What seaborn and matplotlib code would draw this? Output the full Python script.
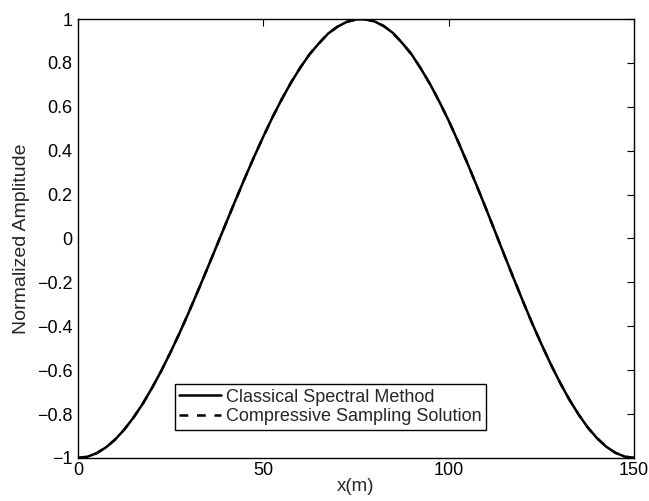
import numpy as np
import pandas as pd
import matplotlib
matplotlib.use("Agg")
import matplotlib.pyplot as plt
import seaborn as sns

x_m = [0, 2.5, 5, 7.5, 10, 12.5, 15, 17.5, 20, 22.5, 25, 27.5, 30, 32.5, 35, 37.5,
       40, 42.5, 45, 47.5, 50, 52.5, 55, 57.5, 60, 62.5, 65, 67.5, 70, 72.5, 75,
       77.5, 80, 82.5, 85, 87.5, 90, 92.5, 95, 97.5, 100, 102.5, 105, 107.5, 110,
       112.5, 115, 117.5, 120, 122.5, 125, 127.5, 130, 132.5, 135, 137.5, 140,
       142.5, 145, 147.5, 150]
classical = [-1.000, -0.995, -0.979, -0.953, -0.917, -0.871, -0.816, -0.753, -0.681,
             -0.603, -0.518, -0.428, -0.333, -0.234, -0.133, -0.031, 0.072, 0.174,
             0.274, 0.371, 0.464, 0.553, 0.635, 0.711, 0.779, 0.840, 0.889, 0.934,
             0.965, 0.987, 0.998, 0.999, 0.989, 0.968, 0.936, 0.890, 0.839, 0.774,
             0.703, 0.623, 0.537, 0.443, 0.345, 0.243, 0.139, 0.032, -0.075, -0.181,
             -0.285, -0.386, -0.481, -0.572, -0.656, -0.733, -0.801, -0.861, -0.910,
             -0.949, -0.977, -0.994, -1.000]
compressive = list(classical)
labels = ["Classical Spectral Method", "Compressive Sampling Solution"]

df = pd.DataFrame({
    "x": x_m * 2,
    "y": classical + compressive,
    "method": [labels[0]] * len(x_m) + [labels[1]] * len(x_m),
})

sns.set_style("white")
plt.rcParams["font.family"] = ["Liberation Sans", "DejaVu Sans"]

fig = plt.figure(figsize=(6.49, 5.01), dpi=100)
ax = fig.add_axes([0.120, 0.086, 0.857, 0.876])
sns.lineplot(data=df, x="x", y="y", hue="method", style="method",
             palette=["black", "black"], dashes=[(None, None), (3.5, 3.5)],
             linewidth=1.8, ax=ax, legend=True)

ax.set_xlim(0, 150)
ax.set_ylim(-1, 1)
ax.set_xticks([0, 50, 100, 150])
ax.set_xticklabels(["0", "50", "100", "150"])
yt = np.round(np.arange(-1, 1.01, 0.2), 1)
ax.set_yticks(yt)
ax.set_yticklabels(["\u22121" if v == -1 else ("1" if v == 1 else ("0" if v == 0 else f"{v:.1f}".replace("-", "\u2212"))) for v in yt])
ax.tick_params(direction="in", length=5, width=0.8, top=True, right=True,
               labelsize=13, pad=3, colors="black")
ax.tick_params(axis="y", pad=4)
for s in ax.spines.values():
    s.set_color("black")
    s.set_linewidth(1.0)
    s.set_visible(True)
ax.set_xlabel("x(m)", fontsize=13.5, labelpad=-1)
ax.set_ylabel("Normalized Amplitude", fontsize=14, labelpad=5)

handles, _ = ax.get_legend_handles_labels()
leg = ax.legend(handles=handles[-2:] if len(handles) > 2 else handles, labels=labels,
                loc="lower left", bbox_to_anchor=(0.174, 0.064), fontsize=13,
                frameon=True, fancybox=False, edgecolor="black", framealpha=1,
                handlelength=2.3, handletextpad=0.3, borderpad=0.25, labelspacing=0.15,
                borderaxespad=0)
leg.get_frame().set_linewidth(1.0)
for h in leg.get_lines():
    h.set_linewidth(1.8)

fig.savefig("out.png", dpi=100)
